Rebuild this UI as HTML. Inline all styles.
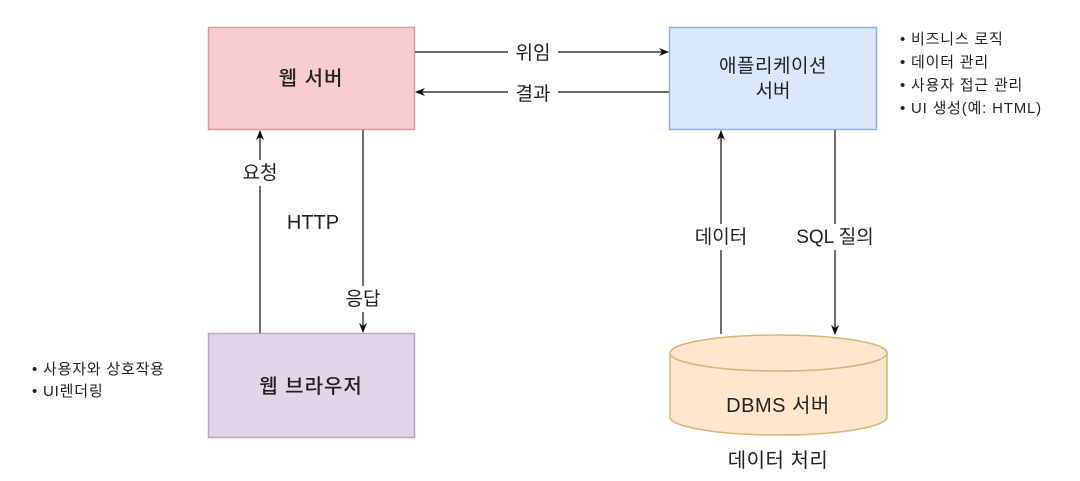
<!DOCTYPE html>
<html><head><meta charset="utf-8"><style>
body{margin:0;background:#fff;width:1080px;height:476px;overflow:hidden;font-family:"Liberation Sans","Noto Sans CJK KR",sans-serif;}
</style></head><body>
<svg width="1080" height="476" xmlns="http://www.w3.org/2000/svg" style="font-family:'Liberation Sans','Noto Sans CJK KR',sans-serif">
<defs><marker id="a" markerWidth="10" markerHeight="10" refX="9" refY="5" orient="auto" markerUnits="userSpaceOnUse"><path d="M0,1 L10,5 L0,9 L3,5 Z" fill="#111"/></marker></defs>
<rect x="208.5" y="27.5" width="206" height="102" fill="#f8cecc" stroke="#d79b9b" stroke-width="1.5"/>
<text x="311" y="85" font-size="20" letter-spacing="1" text-anchor="middle" fill="#222" font-weight="500">웹 서버</text>
<rect x="669.5" y="27.5" width="207" height="102" fill="#dae8fc" stroke="#8fb0d8" stroke-width="1.5"/>
<text x="773" y="72" font-size="19" letter-spacing="0.5" text-anchor="middle" fill="#222">애플리케이션</text>
<text x="773" y="97" font-size="19" text-anchor="middle" fill="#222">서버</text>
<rect x="208.5" y="333.5" width="206" height="104" fill="#e1d5e7" stroke="#b9a3c6" stroke-width="1.5"/>
<text x="311" y="393" font-size="20" letter-spacing="1" text-anchor="middle" fill="#222" font-weight="500">웹 브라우저</text>
<path d="M670,353 L670,417 A108.5,18 0 0 0 887,417 L887,353" fill="#ffe6cc" stroke="#d6b676" stroke-width="1.5"/>
<ellipse cx="778.5" cy="353" rx="108.5" ry="18" fill="#ffe6cc" stroke="#d6b676" stroke-width="1.5"/>
<text x="778" y="412" font-size="20" letter-spacing="0.5" text-anchor="middle" fill="#222">DBMS 서버</text>
<text x="778" y="467" font-size="20" letter-spacing="0.5" text-anchor="middle" fill="#222">데이터 처리</text>
<g stroke="#111" stroke-width="1.2" fill="none">
<line x1="415" y1="52" x2="668" y2="52" marker-end="url(#a)"/>
<line x1="669" y1="92" x2="416" y2="92" marker-end="url(#a)"/>
<line x1="260" y1="333" x2="260" y2="131" marker-end="url(#a)"/>
<line x1="363" y1="130" x2="363" y2="332" marker-end="url(#a)"/>
<line x1="721" y1="334" x2="721" y2="131" marker-end="url(#a)"/>
<line x1="835" y1="130" x2="835" y2="334" marker-end="url(#a)"/>
</g>
<g font-size="19" fill="#222" text-anchor="middle">
<rect x="508" y="40" width="50" height="24" fill="#fff"/><text x="533" y="59">위임</text>
<rect x="508" y="80" width="50" height="24" fill="#fff"/><text x="533" y="100">결과</text>
<rect x="238" y="160" width="44" height="26" fill="#fff"/><text x="260" y="179">요청</text>
<text x="313" y="229" font-size="20">HTTP</text>
<rect x="341" y="286" width="44" height="26" fill="#fff"/><text x="363" y="305">응답</text>
<rect x="688" y="224" width="66" height="26" fill="#fff"/><text x="721" y="243">데이터</text>
<rect x="782" y="224" width="106" height="26" fill="#fff"/><text x="835" y="243">SQL 질의</text>
</g>
<g font-size="15" fill="#222" letter-spacing="0.8">
<text x="900" y="44">•  비즈니스 로직</text>
<text x="900" y="67">•  데이터 관리</text>
<text x="900" y="90">•  사용자 접근 관리</text>
<text x="900" y="113">•  UI 생성(예: HTML)</text>
<text x="32" y="374">•  사용자와 상호작용</text>
<text x="32" y="396">•  UI렌더링</text>
</g>
</svg>
</body></html>
